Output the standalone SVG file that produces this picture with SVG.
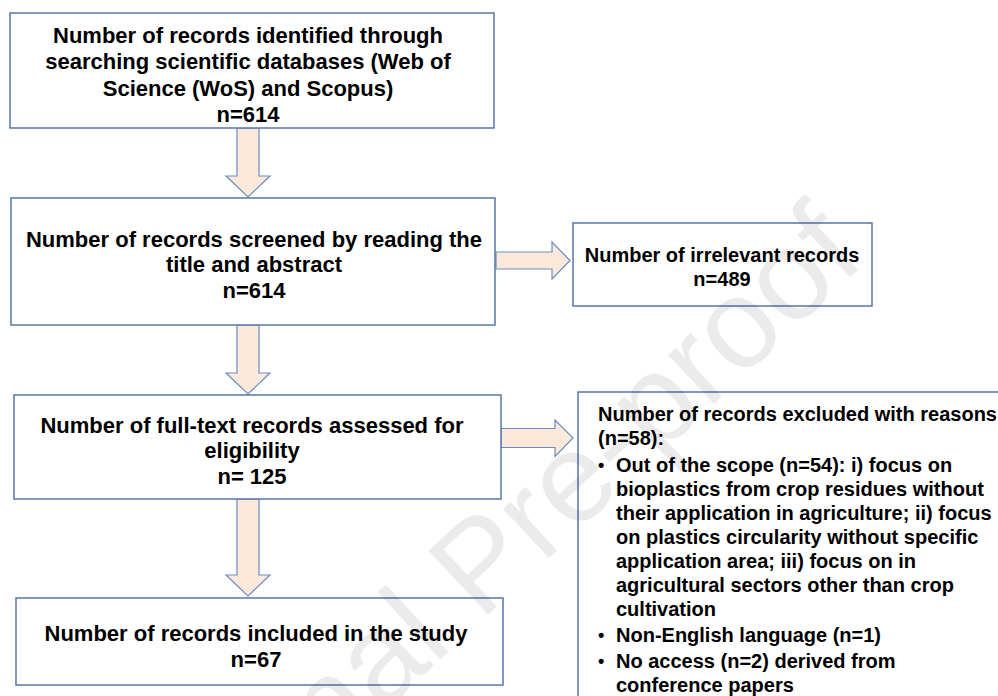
<svg xmlns="http://www.w3.org/2000/svg" width="998" height="696" viewBox="0 0 998 696">
<style>
.box{fill:#ffffff;stroke:#5677ab;stroke-width:1.5}
.arr{fill:#fde9d9;stroke:#6a8dc4;stroke-width:1.2;stroke-linejoin:miter}
.t{font-family:"Liberation Sans",Arial,sans-serif;font-weight:bold;fill:#000}
.m{font-size:22px;text-anchor:middle}
.s{font-size:20px}
.c{text-anchor:middle}
.b{font-size:18px}
.wm{font-family:"Liberation Sans",Arial,sans-serif;font-size:127px;fill:#000;fill-opacity:0.08}
</style>
<rect width="998" height="696" fill="#ffffff"/>
<g id="connectors">
<path class="arr" d="M237 128 H259 V176 H270 L248 197 L226 176 H237 Z"/>
<path class="arr" d="M237 325 H259 V373 H270 L248 394 L226 373 H237 Z"/>
<path class="arr" d="M237 499 H259 V575 H270 L248 596 L226 575 H237 Z"/>
<path class="arr" d="M496 252 H552 V242 L570 260.5 L552 279 V269 H496 Z"/>
<path class="arr" d="M501 428.5 H555 V420 L573 438 L555 456.5 V447.5 H501 Z"/>
</g>
<g id="node-identified">
<rect class="box" x="10" y="13" width="484" height="115"/>
<text class="t m" x="248" y="43">Number of records identified through</text>
<text class="t m" x="248" y="69">searching scientific databases (Web of</text>
<text class="t m" x="248" y="96">Science (WoS) and Scopus)</text>
<text class="t m" x="248" y="122">n=614</text>
</g>
<g id="node-screened">
<rect class="box" x="11" y="198" width="484" height="127"/>
<text class="t m" x="254" y="247">Number of records screened by reading the</text>
<text class="t m" x="254" y="272">title and abstract</text>
<text class="t m" x="254" y="298">n=614</text>
</g>
<g id="node-irrelevant">
<rect class="box" x="573" y="223" width="299" height="83"/>
<text class="t s c" x="722" y="262">Number of irrelevant records</text>
<text class="t s c" x="722" y="286">n=489</text>
</g>
<g id="node-fulltext">
<rect class="box" x="14" y="395" width="487" height="104"/>
<text class="t m" x="252" y="433">Number of full-text records assessed for</text>
<text class="t m" x="252" y="458">eligibility</text>
<text class="t m" x="252" y="484">n= 125</text>
</g>
<g id="node-included">
<rect class="box" x="16" y="598" width="487" height="87"/>
<text class="t m" x="256" y="641">Number of records included in the study</text>
<text class="t m" x="256" y="667">n=67</text>
</g>
<g id="node-excluded">
<path d="M1000 392 H578 V700" fill="#ffffff" stroke="#5677ab" stroke-width="1.5"/>
<text class="t s" x="598" y="421">Number of records excluded with reasons</text>
<text class="t s" x="598" y="445">(n=58):</text>
<text class="t b" x="598" y="471">•</text>
<text class="t s" x="616" y="472">Out of the scope (n=54): i) focus on</text>
<text class="t s" x="616" y="496">bioplastics from crop residues without</text>
<text class="t s" x="616" y="520">their application in agriculture; ii) focus</text>
<text class="t s" x="616" y="544">on plastics circularity without specific</text>
<text class="t s" x="616" y="568">application area; iii) focus on in</text>
<text class="t s" x="616" y="592">agricultural sectors other than crop</text>
<text class="t s" x="616" y="616">cultivation</text>
<text class="t b" x="598" y="641">•</text>
<text class="t s" x="616" y="642">Non-English language (n=1)</text>
<text class="t b" x="598" y="667">•</text>
<text class="t s" x="616" y="668">No access (n=2) derived from</text>
<text class="t s" x="616" y="692">conference papers</text>
</g>
<text class="wm" transform="translate(150,930) rotate(-43)">Journal Pre-proof</text>
</svg>
